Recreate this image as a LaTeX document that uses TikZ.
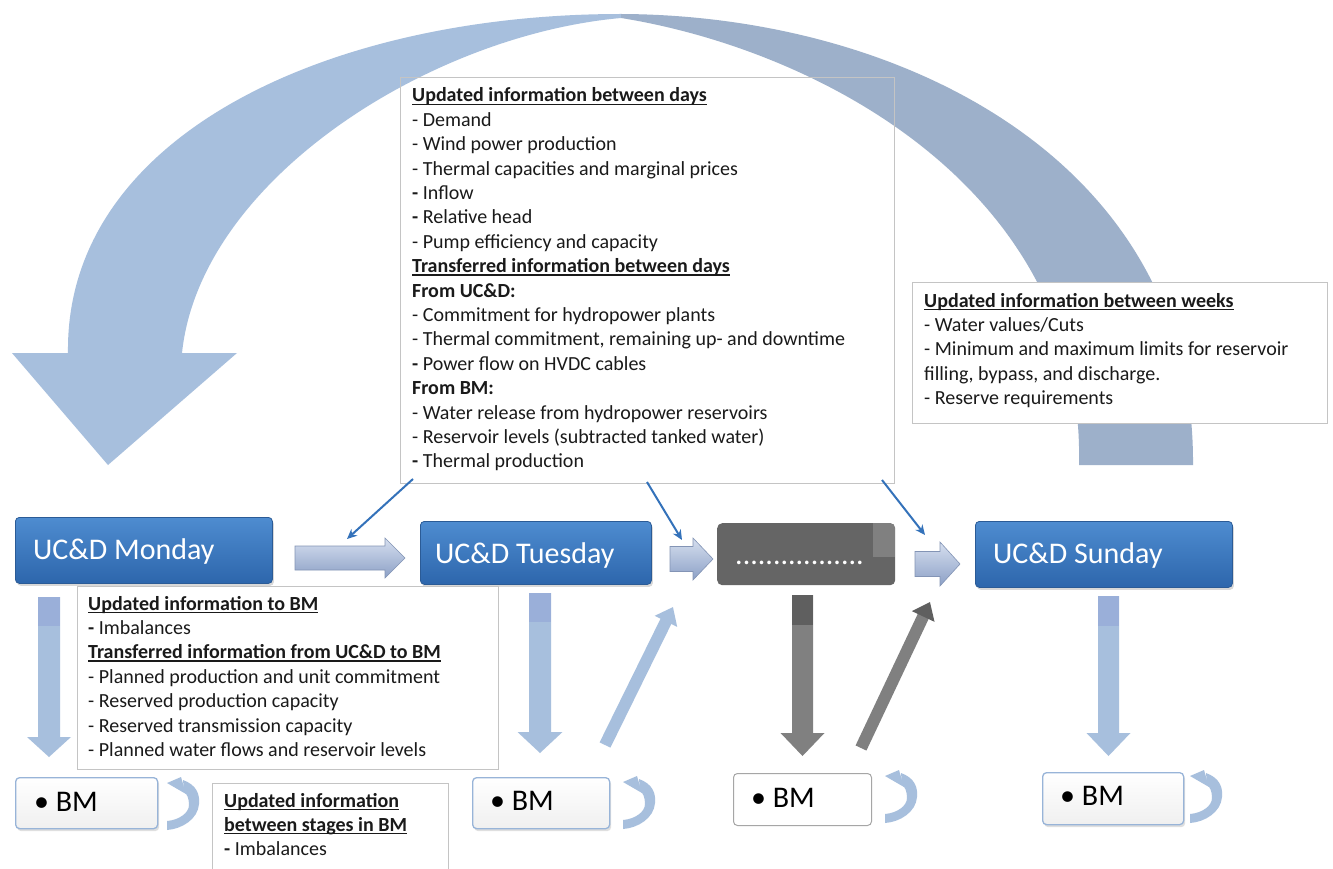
\documentclass[tikz,border=0pt]{standalone}
\usepackage{fontspec}
\setmainfont{Carlito}
\usetikzlibrary{arrows.meta,shadows,calc}

\definecolor{bandL}{HTML}{A7BFDD}
\definecolor{bandR}{HTML}{9DB0CA}
\definecolor{ucTop}{HTML}{4E8CD0}
\definecolor{ucBot}{HTML}{2D66AC}
\definecolor{ucEdge}{HTML}{2B5B96}
\definecolor{darkbox}{HTML}{656565}
\definecolor{darkcorner}{HTML}{808080}
\definecolor{pointer}{HTML}{3472BA}
\definecolor{flowL}{HTML}{A7BFDD}
\definecolor{flowTop}{HTML}{9AAFD9}
\definecolor{flowG}{HTML}{808080}
\definecolor{flowGTop}{HTML}{5F5F5F}
\definecolor{boxline}{HTML}{C4C4C4}
\definecolor{bmedge}{HTML}{98B4D8}
\definecolor{grayedge}{HTML}{A6A6A6}
\definecolor{txt}{HTML}{1A1A1A}
\definecolor{hTop}{HTML}{D6DFEF}
\definecolor{hBot}{HTML}{8CA0C6}
\definecolor{hEdge}{HTML}{8394B5}

% bold heading with a close underline
\newsavebox\ulheadbox
\newcommand\ulbf[1]{\sbox\ulheadbox{\bfseries #1}\rlap{\vrule height -1.6pt depth 2.8pt width \wd\ulheadbox}\usebox\ulheadbox}
% left-aligned block of lines, baseline at the first line
\newcommand\textlines[1]{\vtop{\halign{##\hfil\cr#1\crcr}}}

% horizontal block arrow: shaft start, head base, tip, centre y, shaft half, head half
\newcommand\hblockarrow[6]{%
  \path[harrow] (#1,#4-#5) -- (#2,#4-#5) -- (#2,#4-#6) -- (#3,#4) -- (#2,#4+#6)
    -- (#2,#4+#5) -- (#1,#4+#5) -- cycle;}
% vertical block arrow: centre x, top, head base, tip, shaft half, head half, colour, top colour, end of top band
\newcommand\vblockarrow[9]{%
  \fill[#7] (#1-#5,#2) -- (#1+#5,#2) -- (#1+#5,#3) -- (#1+#6,#3) -- (#1,#4)
    -- (#1-#6,#3) -- (#1-#5,#3) -- cycle;
  \fill[#8] (#1-#5,#2) rectangle (#1+#5,#9);}
% small loop arrow beside a BM stage (top-left corner given)
\newcommand\loopmark[2]{%
  \fill[flowL] (#1+16,#2+1) .. controls (#1+30,#2+6) and (#1+33,#2+16) .. (#1+32,#2+25)
    .. controls (#1+31,#2+40) and (#1+15,#2+50) .. (#1,#2+51) -- (#1,#2+42)
    .. controls (#1+12,#2+41) and (#1+22,#2+34) .. (#1+22,#2+26)
    .. controls (#1+22,#2+19) and (#1+20,#2+15) .. (#1+17,#2+13) -- cycle;
  \fill[flowL] (#1+14,#2-2) -- (#1,#2+4) -- (#1+19,#2+15) -- cycle;}

\tikzset{
  panel/.style={draw=boxline, line width=1pt, fill=white, inner sep=0pt},
  infotext/.style={anchor=base west, inner sep=0pt, text=txt, font=\fontsize{20}{24.4}\selectfont},
  ucd/.style={rounded corners=4pt, draw=ucEdge, line width=0.8pt, top color=ucTop, bottom color=ucBot,
    inner sep=0pt, drop shadow={opacity=0.3, shadow xshift=1.5pt, shadow yshift=-2.5pt}},
  ucdtext/.style={anchor=base west, inner sep=0pt, text=white, font=\fontsize{30}{36}\selectfont},
  bmbox/.style={rounded corners=4pt, draw=bmedge, line width=1.3pt, top color=white, bottom color=black!6,
    inner sep=0pt, drop shadow={opacity=0.25, shadow xshift=1.5pt, shadow yshift=-2.5pt}},
  bmtext/.style={anchor=base west, inner sep=0pt, text=black, font=\fontsize{30}{36}\selectfont},
  pointerline/.style={draw=pointer, line width=2pt, -{Stealth[length=10pt,width=9pt]}},
  harrow/.style={draw=hEdge, line width=0.6pt, top color=hTop, bottom color=hBot},
  upflow/.style={line width=12pt, -{Triangle[length=16pt,width=24pt]}},
}

\begin{document}
\begin{tikzpicture}[x=1pt,y=-1pt]
\useasboundingbox (0,0) rectangle (1333,869);
\fill[white] (0,0) rectangle (1333,869);

% panel for the information exchanged between days
\node[panel, draw=none, anchor=north west, minimum width=493pt, minimum height=404pt] (info) at (400,78) {};

% weekly feedback: curved arrow over the whole week
\fill[bandL] (621,14) .. controls (330,14) and (65,135) .. (68,353) -- (12,353) -- (108,465)
  -- (237,353) -- (182,353) .. controls (200,180) and (430,35) .. (621,18) -- cycle;
\fill[bandR] (621,14) .. controls (900,15) and (1195,160) .. (1193,465) -- (1079,465)
  .. controls (1085,190) and (820,50) .. (621,18) -- cycle;

\draw[draw=boxline, line width=1pt] (info.north west) rectangle (info.south east);
\node[infotext] (infoT) at (412,102) {\textlines{%
\ulbf{Updated information between days}\cr
- Demand\cr
- Wind power production\cr
- Thermal capacities and marginal prices\cr
\textbf{-} Inflow\cr
\textbf{-} Relative head\cr
- Pump efficiency and capacity\cr
\ulbf{Transferred information between days}\cr
\textbf{From UC\&D:}\cr
- Commitment for hydropower plants\cr
- Thermal commitment, remaining up- and downtime\cr
\textbf{-} Power flow on HVDC cables\cr
\textbf{From BM:}\cr
- Water release from hydropower reservoirs\cr
- Reservoir levels (subtracted tanked water)\cr
\textbf{-} Thermal production}};

% information between weeks
\node[panel, anchor=north west, minimum width=415pt, minimum height=141pt] (weeks) at (912,282) {};
\node[infotext] (weeksT) at (924,307) {\textlines{%
\ulbf{Updated information between weeks}\cr
- Water values/Cuts\cr
- Minimum and maximum limits for reservoir\cr
filling, bypass, and discharge.\cr
- Reserve requirements}};

% daily unit commitment and dispatch
\node[ucd, anchor=north west, minimum width=257pt, minimum height=66pt] (mon) at (15,517) {};
\node[ucdtext] (monT) at (33,559) {UC\&D Monday};
\node[ucd, anchor=north west, minimum width=231pt, minimum height=63pt] (tue) at (420,521) {};
\node[ucdtext] (tueT) at (435,563) {UC\&D Tuesday};
\node[rounded corners=5pt, fill=darkbox, anchor=north west, minimum width=178pt, minimum height=62pt,
  inner sep=0pt,
  path picture={\fill[darkcorner, sharp corners] ($(path picture bounding box.north east)+(-22,0)$)
    rectangle ($(path picture bounding box.north east)+(0,34)$);}] (dots) at (717,523) {};
\node[ucdtext] (dotsT) at (735,564) {.................};
\node[ucd, anchor=north west, minimum width=257pt, minimum height=66pt] (sun) at (975,521) {};
\node[ucdtext] (sunT) at (993,563) {UC\&D Sunday};

% transfers between consecutive days
\hblockarrow{295}{385}{405}{558}{12}{20}
\hblockarrow{670}{693}{713}{559}{12.5}{21}
\hblockarrow{915}{940}{960}{564}{12.5}{22}

% updated information entering each day
\coordinate (p1s) at (413,479);
\coordinate (p1e) at (347,539);
\coordinate (p2s) at (647,482);
\coordinate (p2e) at (682,540);
\coordinate (p3s) at (882,480);
\coordinate (p3e) at (925,535);
\draw[pointerline] (p1s) -- (p1e);
\draw[pointerline] (p2s) -- (p2e);
\draw[pointerline] (p3s) -- (p3e);

% from UC&D down to the balancing market
\vblockarrow{49}{597}{737}{757}{11}{22}{flowL}{flowTop}{626}
\vblockarrow{540}{593}{732}{753}{11}{22.5}{flowL}{flowTop}{622}
\vblockarrow{802.5}{595}{733}{756}{10.5}{22}{flowG}{flowGTop}{625}
\vblockarrow{1108.5}{596}{733}{756}{10.5}{22}{flowL}{flowTop}{626}

% from the balancing market back to the next day
\coordinate (d1s) at (605,745);
\coordinate (d1e) at (673,607);
\coordinate (d2s) at (861,748);
\coordinate (d2e) at (930,602);
\draw[upflow, flowL] (d1s) -- (d1e);
\draw[upflow, flowG, -{Triangle[length=16pt,width=24pt,color=flowGTop]}] (d2s) -- (d2e);

% information passed to BM
\node[panel, anchor=north west, minimum width=421pt, minimum height=183pt] (tobm) at (77,586) {};
\node[infotext] (tobmT) at (88,610) {\textlines{%
\ulbf{Updated information to BM}\cr
\textbf{-} Imbalances\cr
\ulbf{Transferred information from UC\&D to BM}\cr
- Planned production and unit commitment\cr
- Reserved production capacity\cr
- Reserved transmission capacity\cr
- Planned water flows and reservoir levels}};

% balancing market stages
\node[bmbox, anchor=north west, minimum width=142pt, minimum height=51pt] (bm1) at (15,777) {};
\node[bmtext] (bm1T) at (34,811) {• BM};
\node[bmbox, anchor=north west, minimum width=137pt, minimum height=51pt] (bm2) at (472,777) {};
\node[bmtext] (bm2T) at (490,810) {• BM};
\node[rounded corners=4pt, draw=grayedge, line width=1pt, fill=white, inner sep=0pt,
  anchor=north west, minimum width=138pt, minimum height=52pt] (bm3) at (733,773) {};
\node[bmtext] (bm3T) at (751,807) {• BM};
\node[bmbox, anchor=north west, minimum width=141pt, minimum height=52pt] (bm4) at (1042,772) {};
\node[bmtext] (bm4T) at (1060,805) {• BM};

\loopmark{167}{779}
\loopmark{623}{778}
\loopmark{885}{772}
\loopmark{1190}{772}

% information between stages in BM
\node[panel, anchor=north west, minimum width=236pt, minimum height=120pt] (stages) at (212,783) {};
\node[infotext] (stagesT) at (224,807) {\textlines{%
\ulbf{Updated information}\cr
\ulbf{between stages in BM}\cr
\textbf{-} Imbalances}};
\end{tikzpicture}
\end{document}
